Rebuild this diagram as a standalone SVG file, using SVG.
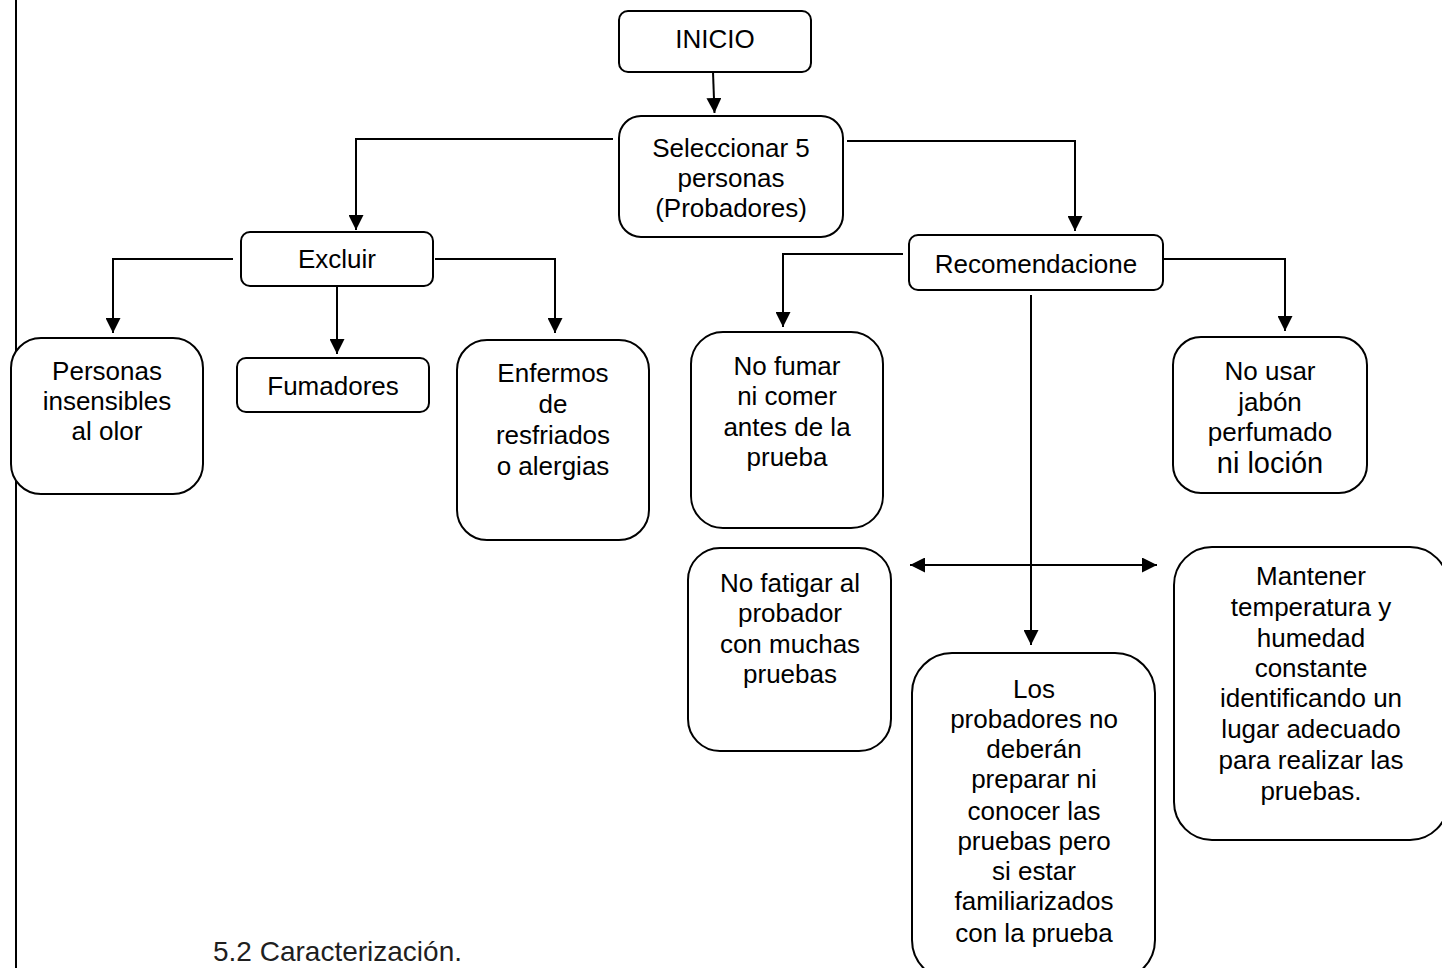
<svg xmlns="http://www.w3.org/2000/svg" width="1442" height="968" viewBox="0 0 1442 968">
  <style>
    .box { fill: #ffffff; stroke: #000000; stroke-width: 2; }
    .lbl { font-family: "Liberation Sans", Arial, sans-serif; font-size: 26px; fill: #000000; text-anchor: middle; }
    .big { font-size: 29px; }
    .wire { fill: none; stroke: #000000; stroke-width: 2; }
    .caption { font-family: "Liberation Sans", Arial, sans-serif; font-size: 28px; fill: #1f1f1f; }
  </style>
  <defs>
    <marker id="arrow" viewBox="0 0 15 15" refX="15" refY="7.5" markerWidth="15" markerHeight="15" markerUnits="userSpaceOnUse" orient="auto-start-reverse">
      <path d="M0,0 L15,7.5 L0,15 z" fill="#000000"/>
    </marker>
  </defs>

  <rect width="1442" height="968" fill="#ffffff"/>

  <!-- page margin rule -->
  <line x1="16" y1="0" x2="16" y2="968" stroke="#000000" stroke-width="2"/>

  <!-- connectors -->
  <g id="connectors">
    <path class="wire" d="M713,72 L714.5,113" marker-end="url(#arrow)"/>
    <path class="wire" d="M613,139 H356 V230" marker-end="url(#arrow)"/>
    <path class="wire" d="M847,141 H1075 V231" marker-end="url(#arrow)"/>
    <path class="wire" d="M233,259 H113 V333" marker-end="url(#arrow)"/>
    <path class="wire" d="M337,284 V354" marker-end="url(#arrow)"/>
    <path class="wire" d="M435,259 H555 V333" marker-end="url(#arrow)"/>
    <path class="wire" d="M903,254 H783 V327" marker-end="url(#arrow)"/>
    <path class="wire" d="M1164,259 H1285 V331" marker-end="url(#arrow)"/>
    <path class="wire" d="M1031,295 V645" marker-end="url(#arrow)"/>
    <path class="wire" d="M910,565 H1157" marker-start="url(#arrow)" marker-end="url(#arrow)"/>
  </g>

  <g id="inicio">
    <rect class="box" x="619" y="11" width="192" height="61" rx="9"/>
    <text class="lbl" x="715" y="48">INICIO</text>
  </g>

  <g id="seleccionar">
    <rect class="box" x="619" y="116" width="224" height="121" rx="22"/>
    <text class="lbl" x="731" y="157">Seleccionar 5</text>
    <text class="lbl" x="731" y="187">personas</text>
    <text class="lbl" x="731" y="217">(Probadores)</text>
  </g>

  <g id="excluir">
    <rect class="box" x="241" y="232" width="192" height="54" rx="9"/>
    <text class="lbl" x="337" y="268">Excluir</text>
  </g>

  <g id="recomendaciones">
    <rect class="box" x="909" y="235" width="254" height="55" rx="9"/>
    <text class="lbl" x="1036" y="273">Recomendacione</text>
  </g>

  <g id="insensibles">
    <rect class="box" x="11" y="338" width="192" height="156" rx="30"/>
    <text class="lbl" x="107" y="380">Personas</text>
    <text class="lbl" x="107" y="410">insensibles</text>
    <text class="lbl" x="107" y="440">al olor</text>
  </g>

  <g id="fumadores">
    <rect class="box" x="237" y="358" width="192" height="54" rx="9"/>
    <text class="lbl" x="333" y="395">Fumadores</text>
  </g>

  <g id="enfermos">
    <rect class="box" x="457" y="340" width="192" height="200" rx="30"/>
    <text class="lbl" x="553" y="382">Enfermos</text>
    <text class="lbl" x="553" y="413">de</text>
    <text class="lbl" x="553" y="444">resfriados</text>
    <text class="lbl" x="553" y="475">o alergias</text>
  </g>

  <g id="no-fumar">
    <rect class="box" x="691" y="332" width="192" height="196" rx="32"/>
    <text class="lbl" x="787" y="375">No fumar</text>
    <text class="lbl" x="787" y="405">ni comer</text>
    <text class="lbl" x="787" y="436">antes de la</text>
    <text class="lbl" x="787" y="466">prueba</text>
  </g>

  <g id="no-usar">
    <rect class="box" x="1173" y="337" width="194" height="156" rx="28"/>
    <text class="lbl" x="1270" y="380">No usar</text>
    <text class="lbl" x="1270" y="411">jabón</text>
    <text class="lbl" x="1270" y="441">perfumado</text>
    <text class="lbl big" x="1270" y="473">ni loción</text>
  </g>

  <g id="no-fatigar">
    <rect class="box" x="688" y="548" width="203" height="203" rx="32"/>
    <text class="lbl" x="790" y="592">No fatigar al</text>
    <text class="lbl" x="790" y="622">probador</text>
    <text class="lbl" x="790" y="653">con muchas</text>
    <text class="lbl" x="790" y="683">pruebas</text>
  </g>

  <g id="mantener">
    <rect class="box" x="1174" y="547" width="274" height="293" rx="38"/>
    <text class="lbl" x="1311" y="585">Mantener</text>
    <text class="lbl" x="1311" y="616">temperatura y</text>
    <text class="lbl" x="1311" y="647">humedad</text>
    <text class="lbl" x="1311" y="677">constante</text>
    <text class="lbl" x="1311" y="707">identificando un</text>
    <text class="lbl" x="1311" y="738">lugar adecuado</text>
    <text class="lbl" x="1311" y="769">para realizar las</text>
    <text class="lbl" x="1311" y="800">pruebas.</text>
  </g>

  <g id="probadores">
    <rect class="box" x="912" y="653" width="243" height="327" rx="40"/>
    <text class="lbl" x="1034" y="698">Los</text>
    <text class="lbl" x="1034" y="728">probadores no</text>
    <text class="lbl" x="1034" y="758">deberán</text>
    <text class="lbl" x="1034" y="788">preparar ni</text>
    <text class="lbl" x="1034" y="820">conocer las</text>
    <text class="lbl" x="1034" y="850">pruebas pero</text>
    <text class="lbl" x="1034" y="880">si estar</text>
    <text class="lbl" x="1034" y="910">familiarizados</text>
    <text class="lbl" x="1034" y="942">con la prueba</text>
  </g>

  <text class="caption" x="213" y="961">5.2 Caracterización.</text>
</svg>
